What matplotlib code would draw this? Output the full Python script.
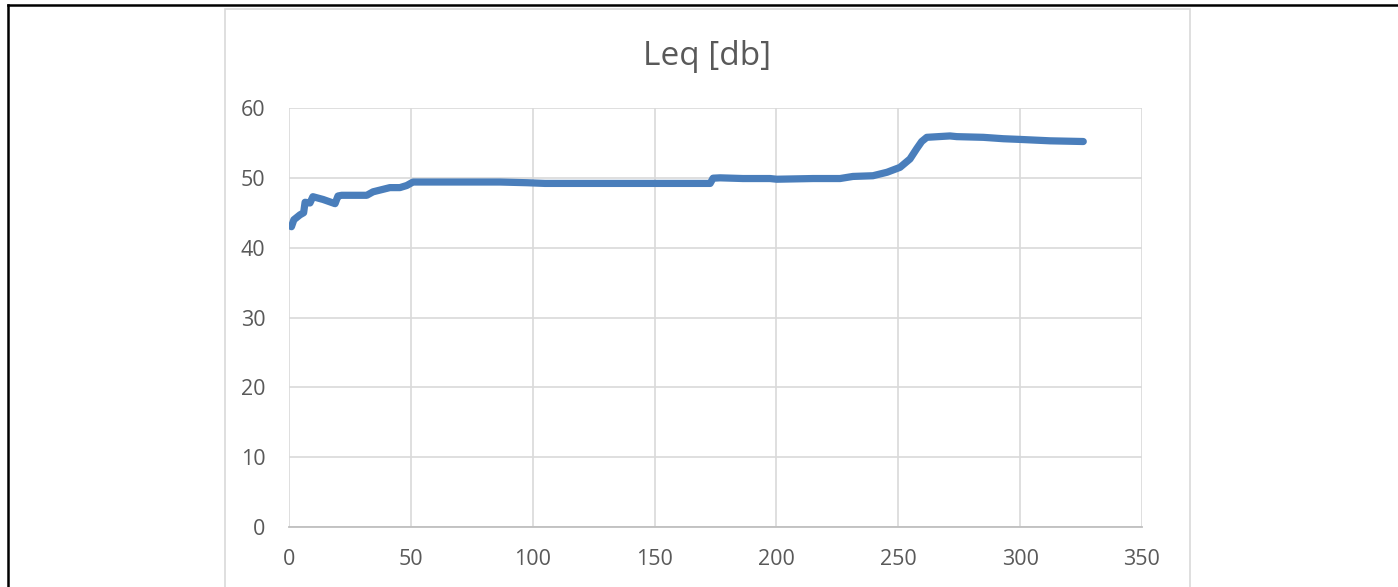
import matplotlib.pyplot as plt
from matplotlib.patches import Rectangle
from matplotlib.lines import Line2D

# Leq readings
t = [1, 2, 4.5, 6, 6.6, 8.6, 9.8, 14, 18.9, 20.1, 21.6, 31.9, 34.5, 41.4, 45.5,
     48.3, 50.9, 55, 86.6, 97.7, 105, 110, 125, 135, 140, 150, 160, 172.8, 174,
     176.9, 186.3, 197.4, 200.1, 215, 226.1, 231.4, 239.6, 245.4, 250.7, 254.8,
     257.6, 259.6, 261.7, 271.2, 274, 284.9, 293.1, 300, 312.3, 325.9]
leq = [43.0, 44.0, 44.7, 45.0, 46.5, 46.4, 47.3, 46.9, 46.3, 47.4, 47.5, 47.5,
       48.0, 48.6, 48.6, 48.9, 49.4, 49.4, 49.4, 49.3, 49.2, 49.2, 49.2, 49.2,
       49.2, 49.2, 49.2, 49.2, 49.95, 50.0, 49.9, 49.9, 49.8, 49.9, 49.9, 50.2,
       50.3, 50.8, 51.5, 52.7, 54.2, 55.2, 55.8, 56.0, 55.9, 55.8, 55.6, 55.5,
       55.3, 55.2]
xticks = [0, 50, 100, 150, 200, 250, 300, 350]
yticks = [0, 10, 20, 30, 40, 50, 60]

plt.rcParams['font.family'] = ['Open Sans', 'DejaVu Sans']
W, H = 1398, 587
fig = plt.figure(figsize=(W / 100, H / 100), dpi=100)

# table cell borders and the chart frame
fig.add_artist(Line2D([8 / W, 1], [1 - 5 / H, 1 - 5 / H], color='black', lw=1.8))
fig.add_artist(Line2D([8 / W, 8 / W], [0, 1 - 5 / H], color='black', lw=1.8))
fig.add_artist(Rectangle((225 / W, -0.05), (1190 - 225) / W, 1.05 - 9 / H,
                         fill=False, ec='#D9D9D9', lw=1.2))

ax = fig.add_axes([289 / W, 1 - 527 / H, (1142 - 289) / W, (527 - 108) / H])
ax.plot(t, leq, color='#4A7EBB', lw=5.2, solid_capstyle='round',
        solid_joinstyle='round', zorder=3)
ax.set_xlim(0, 350)
ax.set_ylim(0, 60)
ax.set_xticks(xticks)
ax.set_yticks(yticks)
ax.grid(True, color='#D9D9D9', lw=1.2)
ax.set_axisbelow(True)
for s in ['top', 'right', 'left']:
    ax.spines[s].set_visible(False)
ax.spines['bottom'].set_color('#BFBFBF')
ax.spines['bottom'].set_linewidth(1.3)
ax.tick_params(length=0, labelsize=15.5, labelcolor='#595959')
ax.tick_params(axis='x', pad=16)
ax.tick_params(axis='y', pad=17)

fig.text(707 / W, 1 - 65 / H, 'Leq [db]', ha='center', va='baseline',
         fontsize=24, color='#595959')

fig.savefig('out.png', dpi=100)
